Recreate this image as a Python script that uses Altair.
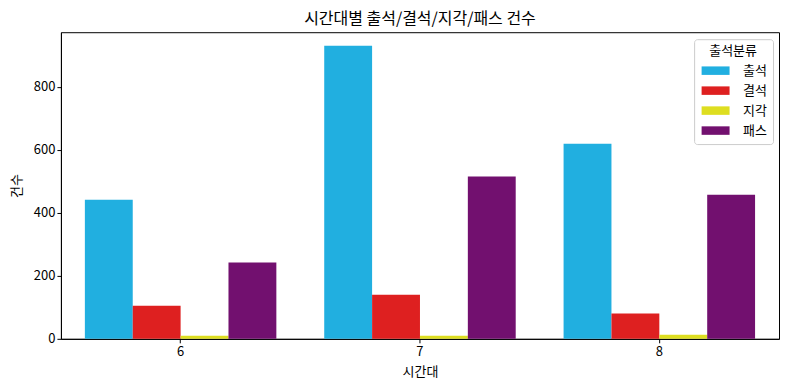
import altair as alt
import pandas as pd

hours = ["6", "7", "8"]
categories = ["출석", "결석", "지각", "패스"]
attend = [441, 930, 619]
absent = [105, 140, 80]
late = [10, 10, 13]
pass_ = [242, 515, 457]
colors = ["#21afe0", "#de2020", "#dede20", "#72106f"]
y_ticks = [0, 200, 400, 600, 800]

series = {"출석": attend, "결석": absent, "지각": late, "패스": pass_}
rows = []
for cat in categories:
    for h, v in zip(hours, series[cat]):
        rows.append({"시간대": h, "출석분류": cat, "건수": v})
df = pd.DataFrame(rows)

FONT = "Noto Sans CJK KR"

chart = alt.Chart(df).mark_bar().encode(
    x=alt.X("시간대:N", sort=hours,
            scale=alt.Scale(paddingInner=0.2, paddingOuter=0.1),
            axis=alt.Axis(title="시간대", labelAngle=0, labelPadding=3, titlePadding=7)),
    xOffset=alt.XOffset("출석분류:N", sort=categories,
                        scale=alt.Scale(paddingInner=0, paddingOuter=0)),
    y=alt.Y("건수:Q", scale=alt.Scale(domain=[0, 973], nice=False),
            axis=alt.Axis(title="건수", values=y_ticks, grid=False, titlePadding=10)),
    color=alt.Color("출석분류:N", sort=categories,
                    scale=alt.Scale(domain=categories, range=colors),
                    legend=alt.Legend(title="출석분류", orient="none", legendX=634, legendY=7,
                                      symbolType="M-1,-0.85h5.6v1.7h-5.6z", symbolSize=100,
                                      symbolStrokeWidth=0, labelOffset=30, rowPadding=6,
                                      padding=6, fillColor="white", strokeColor="#cccccc",
                                      cornerRadius=3, titleAnchor="middle", titlePadding=6)),
).properties(
    width=719, height=307,
    title=alt.TitleParams("시간대별 출석/결석/지각/패스 건수", fontSize=16, fontWeight="normal",
                          font=FONT, color="black", offset=5),
    autosize=alt.AutoSizeParams(type="none"),
    padding={"left": 53, "top": 24, "right": 3, "bottom": 43},
).configure_view(
    stroke="black", strokeWidth=1
).configure_axis(
    labelFont=FONT, titleFont=FONT, labelFontSize=13, titleFontSize=13,
    labelColor="black", titleColor="black", titleFontWeight="normal",
    tickColor="black", domainColor="black", tickSize=4
).configure_legend(
    labelFont=FONT, titleFont=FONT, labelFontSize=13, titleFontSize=13,
    labelColor="black", titleColor="black", titleFontWeight="normal"
)

chart.save("out.html", embed_options={"renderer": "svg", "actions": False})
